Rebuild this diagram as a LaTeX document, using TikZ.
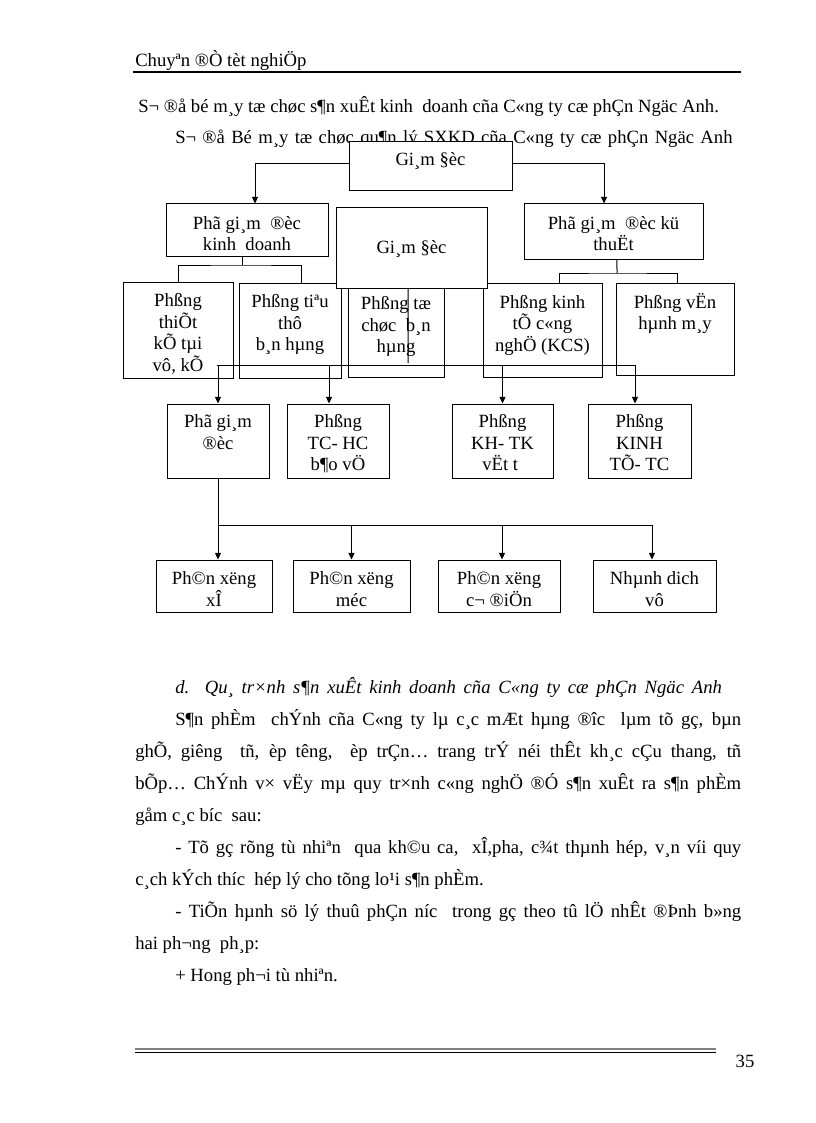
\documentclass[tikz,border=0pt]{standalone}
\usepackage{fontspec}
\setmainfont{Liberation Serif}
\usetikzlibrary{arrows.meta,fit}
\newcommand{\bxfont}{\fontsize{14pt}{16.2pt}\selectfont}
\newcommand{\st}{\rule{0pt}{12.5pt}}
\AtBeginDocument{\fontsize{14pt}{16.2pt}\selectfont}
\begin{document}
\begin{tikzpicture}[x=0.75pt,y=-0.75pt,
  box/.style={draw, line width=0.75pt, inner sep=0pt, fill=white},
  lbl/.style={font=\bxfont, align=center, inner sep=0pt, anchor=north},
  txt/.style={font=\bxfont, inner sep=0pt, anchor=base west},
  conn/.style={line width=0.75pt},
  arr/.style={line width=0.75pt, -{Triangle[width=4.5pt,length=5pt]}}]
\useasboundingbox (0,0) rectangle (816,1123);
\fill[white] (0,0) rectangle (816,1123);

% header
\node[txt] (hdr) at (135,67) {Chuyªn ®Ò tèt nghiÖp};
\draw[line width=1.5pt] (133,72.5) -- (741,72.5);

% titles
\node[txt] (ti1) at (138,113) {S¬ ®å bé m¸y tæ chøc s¶n xuÊt kinh\ \ doanh cña C«ng ty cæ phÇn Ngäc Anh.};
\node[txt] (ti2) at (175,144) {\makebox[418pt][s]{S¬ ®å Bé m¸y tæ chøc qu¶n lý SXKD cña C«ng ty cæ phÇn Ngäc Anh}};

% boxes
\node[box, fit={(349,142) (512,191)}] (gd1) {};
\node[box, fit={(166,204) (328,256)}] (pkd) {};
\node[box, fit={(524,204) (703,259)}] (pkt) {};
\node[box, fit={(123,282) (233,378)}] (tk) {};
\node[box, fit={(239,283) (341,378)}] (tt) {};
\node[box, fit={(348,283) (444,377)}] (tc) {};
\node[box, fit={(483,283) (602,377)}] (kcs) {};
\node[box, fit={(616,283) (734,375)}] (vh) {};
\node[box, fit={(336,208) (487,288)}] (gd2) {};
\node[box, fit={(167,404) (269,478)}] (ra) {};
\node[box, fit={(287,404) (389,478)}] (rb) {};
\node[box, fit={(452,404) (553,478)}] (rc) {};
\node[box, fit={(588,404) (691,478)}] (rd) {};
\node[box, fit={(156,560) (272,612)}] (sa) {};
\node[box, fit={(293,560) (410,612)}] (sb) {};
\node[box, fit={(438,560) (560,612)}] (sc) {};
\node[box, fit={(593,560) (716,612)}] (sd) {};

% box texts
\node[lbl] (lgd1) at ([yshift=-5pt]gd1.north) {\st Gi¸m §èc};
\node[lbl] (lpkd) at ([yshift=-6.5pt]pkd.north) {\st Phã gi¸m\ \ ®èc\\kinh\ \ doanh};
\node[lbl] (lpkt) at ([yshift=-6.5pt]pkt.north) {\st Phã gi¸m\ \ ®èc kü\\thuËt};
\node[lbl] (ltk) at ([yshift=-6pt]tk.north) {\st Phßng\\thiÕt\\kÕ tµi\\vô, kÕ};
\node[lbl] (ltt) at ([yshift=-6pt]tt.north) {\st Phßng tiªu\\thô\\b¸n hµng};
\node[lbl] (ltc) at ([yshift=-7.5pt]tc.north) {\st Phßng tæ\\chøc\ \ b¸n\\hµng};
\node[lbl] (lkcs) at ([yshift=-6.5pt]kcs.north) {\st Phßng kinh\\tÕ c«ng\\nghÖ (KCS)};
\node[lbl] (lvh) at ([yshift=-6.5pt]vh.north) {\st Phßng vËn\\hµnh m¸y};
\node[lbl] (lgd2) at ([yshift=-21.5pt]gd2.north) {\st Gi¸m §èc};
\node[lbl] (lra) at ([yshift=-5.5pt]ra.north) {\st Phã gi¸m\\®èc};
\node[lbl] (lrb) at ([yshift=-5.5pt]rb.north) {\st Phßng\\TC- HC\\b¶o vÖ};
\node[lbl] (lrc) at ([yshift=-5.5pt]rc.north) {\st Phßng\\KH- TK\\vËt t\ \ };
\node[lbl] (lrd) at ([yshift=-5.5pt]rd.north) {\st Phßng\\KINH\\TÕ- TC};
\node[lbl] (lsa) at ([yshift=-6pt]sa.north) {\st Ph©n xëng\\xÎ};
\node[lbl] (lsb) at ([yshift=-6pt]sb.north) {\st Ph©n xëng\\méc};
\node[lbl] (lsc) at ([yshift=-6pt]sc.north) {\st Ph©n xëng\\c¬ ®iÖn};
\node[lbl] (lsd) at ([yshift=-6pt]sd.north) {\st Nhµnh dich\\vô};

% connectors: top level
\draw[arr] ([yshift=2.6pt]gd1.west) -| ([xshift=6pt]pkd.north);
\draw[arr] ([yshift=2.6pt]gd1.east) -| ([xshift=-7.1pt]pkt.north);

% kinh doanh branch
\coordinate (j1) at (242,265);
\draw[conn] ([xshift=-3.75pt]pkd.south) -- (j1);
\draw[conn] (tk.north) |- (j1) -| ([xshift=8.25pt]tt.north);

% ky thuat branch
\coordinate (j2) at (617,273);
\draw[conn] ([xshift=2.6pt]pkt.south) -- (j2);
\draw[conn] ([xshift=12.4pt]kcs.north) |- (j2) -| ([xshift=1.5pt]vh.north);

% middle director line
\coordinate (m1) at (408,363);
\draw[conn] ([xshift=-2.6pt]gd2.south) -- (m1);

% row 3 -> row 4
\coordinate (h1) at (217,365);
\coordinate (h2) at (635,365);
\draw[conn] (h1) -- (h2);
\draw[arr] (ra.north |- h1) -- (ra.north);
\draw[arr] ([xshift=-6.75pt]rb.north |- h1) -- ([xshift=-6.75pt]rb.north);
\draw[arr] (rc.north |- h1) -- (rc.north);
\draw[arr] (h2) -- (h2 |- rd.north);

% row 4 -> row 5
\coordinate (h3) at (218,525);
\coordinate (h4) at (652,525);
\draw[conn] (ra.south) -- (h3) -- (h4);
\draw[arr] (h3) -- (h3 |- sa.north);
\draw[arr] (sb.north |- h3) -- (sb.north);
\draw[arr] ([xshift=2.25pt]sc.north |- h3) -- ([xshift=2.25pt]sc.north);
\draw[arr] (h4) -- (h4 |- sd.north);

% body text
\node[txt, font=\bxfont\itshape] (hd) at (175,693) {\makebox[410pt][s]{d. Qu¸ tr×nh s¶n xuÊt kinh doanh cña C«ng ty cæ phÇn Ngäc Anh}};
\node[txt] (p1) at (175,725) {\makebox[424.5pt][s]{S¶n phÈm\ \ chÝnh cña C«ng ty lµ c¸c mÆt hµng ®îc\ \ lµm tõ gç, bµn}};
\node[txt] (p2) at (135,757) {\makebox[454.5pt][s]{ghÕ, giêng\ \ tñ, èp têng,\ \ èp trÇn… trang trÝ néi thÊt kh¸c cÇu thang, tñ}};
\node[txt] (p3) at (135,789) {\makebox[454.5pt][s]{bÕp… ChÝnh v× vËy mµ quy tr×nh c«ng nghÖ ®Ó s¶n xuÊt ra s¶n phÈm}};
\node[txt] (p4) at (135,821) {gåm c¸c bíc\ \ sau:};
\node[txt] (p5) at (175,853) {\makebox[424.5pt][s]{- Tõ gç rõng tù nhiªn\ \ qua kh©u ca,\ \ xÎ,pha, c¾t thµnh hép, v¸n víi quy}};
\node[txt] (p6) at (135,885) {c¸ch kÝch thíc\ \ hép lý cho tõng lo¹i s¶n phÈm.};
\node[txt] (p7) at (175,917) {\makebox[424.5pt][s]{- TiÕn hµnh sö lý thuû phÇn níc\ \ trong gç theo tû lÖ nhÊt ®Þnh b»ng}};
\node[txt] (p8) at (135,949) {hai ph¬ng\ \ ph¸p:};
\node[txt] (p9) at (175,981) {+ Hong ph¬i tù nhiªn.};

% footer
\draw[gray, line width=1.2pt] (135,1049) -- (716,1049);
\draw[line width=0.8pt] (135,1052.5) -- (716,1052.5);
\node[txt, anchor=base] (pg) at (745,1067) {35};
\end{tikzpicture}
\end{document}
